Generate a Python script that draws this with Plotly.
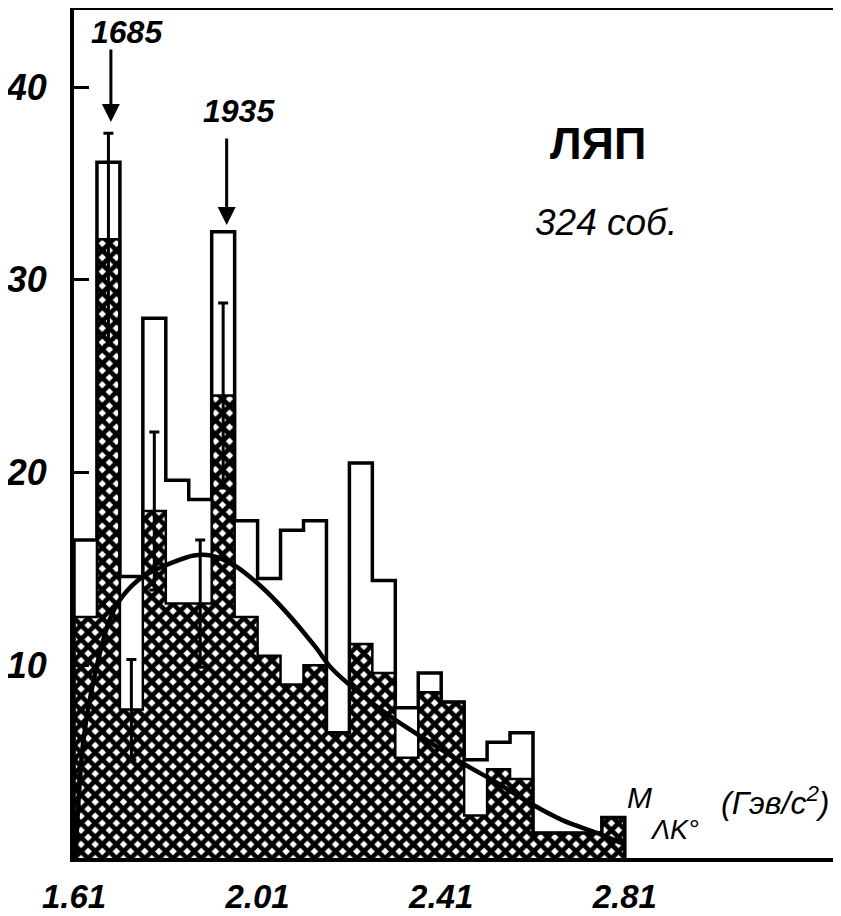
import plotly.graph_objects as go

# ---------------- data ----------------
bin_centers = [1.635, 1.685, 1.735, 1.785, 1.835, 1.885, 1.935, 1.985,
               2.035, 2.085, 2.135, 2.185, 2.235, 2.285, 2.335, 2.385,
               2.435, 2.485, 2.535, 2.585, 2.635, 2.685, 2.735, 2.785]
bin_width = 0.05

# open histogram (all events)
open_counts = [16.5, 36.1, 14.6, 28.0, 19.6, 18.6, 32.5, 17.5,
               14.5, 17.0, 17.5, 6.5, 20.5, 14.4, 7.8, 9.6,
               8.1, 5.1, 6.0, 6.5, 1.3, 1.3, 1.3, 2.1]
# cross-hatched histogram
hatched_counts = [12.5, 32.1, 7.7, 18.0, 13.2, 13.2, 24.0, 12.5,
                  10.5, 9.0, 10.0, 6.5, 11.1, 9.6, 5.2, 8.6,
                  8.1, 2.2, 4.6, 4.1, 1.3, 1.3, 1.3, 2.1]

# error bars on the hatched histogram
err_x = [1.685, 1.735, 1.785, 1.885, 1.935]
err_y = [32.1, 7.7, 18.0, 13.2, 24.0]
err_val = [5.5, 2.6, 4.1, 3.3, 4.8]

# smooth background curve
curve_x = [1.613, 1.63, 1.66, 1.69, 1.7165, 1.76, 1.821, 1.871, 1.908,
           1.958, 2.017, 2.067, 2.136, 2.169, 2.24, 2.314, 2.386, 2.458,
           2.532, 2.603, 2.675, 2.749, 2.81]
curve_y = [0.0, 6.0, 10.0, 12.5, 13.6, 14.6, 15.3, 15.7, 15.7,
           15.2, 14.1, 12.9, 10.95, 9.9, 8.4, 7.1, 6.0, 4.9,
           3.9, 2.85, 1.95, 1.3, 0.7]

x_tick_vals = [1.61, 2.01, 2.41, 2.81]
x_tick_text = ["1.61", "2.01", "2.41", "2.81"]
y_tick_vals = [10, 20, 30, 40]
y_tick_text = ["10", "20", "30", "40"]

peak_labels = ["1685", "1935"]

FONT = "Liberation Sans, Arial, sans-serif"

# step outlines built from the bin arrays
left_edges = [c - bin_width / 2 for c in bin_centers]
right_end = bin_centers[-1] + bin_width / 2
step_x = [left_edges[0]] + left_edges + [right_end, right_end]
open_step_y = [0] + open_counts + [open_counts[-1], 0]
hatch_step_y = [0] + hatched_counts + [hatched_counts[-1], 0]

fig = go.Figure()

# hatched histogram (filled step polygon)
fig.add_trace(go.Scatter(
    x=step_x, y=hatch_step_y, mode="lines",
    line=dict(color="black", width=2.5, shape="hv"),
    fill="tozeroy", fillcolor="white",
    fillpattern=dict(shape="x", fgcolor="black", bgcolor="white",
                     size=10, solidity=0.72, fillmode="replace"),
    showlegend=False, hoverinfo="skip"))

# open histogram outline
fig.add_trace(go.Scatter(
    x=step_x, y=open_step_y, mode="lines",
    line=dict(color="black", width=3.5, shape="hv"),
    showlegend=False, hoverinfo="skip"))

# smooth curve
fig.add_trace(go.Scatter(
    x=curve_x, y=curve_y, mode="lines",
    line=dict(color="black", width=4.5, shape="spline", smoothing=0.8),
    showlegend=False, hoverinfo="skip"))

# error bars
fig.add_trace(go.Scatter(
    x=err_x, y=err_y, mode="markers",
    marker=dict(size=1, color="rgba(0,0,0,0)"),
    error_y=dict(type="data", array=err_val, color="black",
                 thickness=3, width=5),
    showlegend=False, hoverinfo="skip"))

# the page adds an 8 px body margin, so the figure is sized/margined to
# place the plot frame where it sits in the reference
fig.update_layout(
    width=833, height=908,
    margin=dict(l=66, r=3, t=2, b=58),
    paper_bgcolor="white", plot_bgcolor="white",
    showlegend=False,
    xaxis=dict(range=[1.61, 3.2745], tickvals=x_tick_vals, ticktext=x_tick_text,
               ticks="", showgrid=False, zeroline=False, automargin=False,
               showline=True, linecolor="black", linewidth=4, mirror=True,
               tickfont=dict(family=FONT, size=33, color="black",
                             weight="bold", style="italic"),
               ticklabelstandoff=6),
    yaxis=dict(range=[0, 44.0], tickvals=y_tick_vals, ticktext=y_tick_text,
               ticks="inside", ticklen=15, tickwidth=3, tickcolor="black",
               showgrid=False, zeroline=False, automargin=False,
               showline=True, linecolor="black", linewidth=4, mirror=True,
               tickfont=dict(family=FONT, size=36, color="black",
                             weight="bold", style="italic"),
               ticklabelstandoff=16),
)

# arrows marking the peaks
fig.add_annotation(x=1.6904, y=38.19, xref="x", yref="y", text="",
                   showarrow=True, arrowhead=2, arrowsize=1.2, arrowwidth=3,
                   arrowcolor="black", ax=0, ay=-74)
fig.add_annotation(x=1.9426, y=32.85, xref="x", yref="y", text="",
                   showarrow=True, arrowhead=2, arrowsize=1.2, arrowwidth=3,
                   arrowcolor="black", ax=0, ay=-88)
peak_font = dict(family=FONT, size=32, color="black", weight="bold", style="italic")
fig.add_annotation(x=1.7252, y=42.86, xref="x", yref="y", text=peak_labels[0],
                   showarrow=False, font=peak_font)
fig.add_annotation(x=1.9687, y=38.77, xref="x", yref="y", text=peak_labels[1],
                   showarrow=False, font=peak_font)

# experiment labels
fig.add_annotation(x=2.7513, y=37.05, xref="x", yref="y", text="ЛЯП",
                   showarrow=False, font=dict(family=FONT, size=45, color="black",
                                              weight="bold"))
fig.add_annotation(x=2.7687, y=33.0, xref="x", yref="y", text="324 соб.",
                   showarrow=False, font=dict(family=FONT, size=37, color="black",
                                              style="italic"))

# axis title
fig.add_annotation(x=2.8426, y=3.15, xref="x", yref="y", text="M",
                   showarrow=False, font=dict(family=FONT, size=30, color="black",
                                              style="italic"))
fig.add_annotation(x=2.9187, y=1.45, xref="x", yref="y", text="ΛK°",
                   showarrow=False, font=dict(family=FONT, size=27, color="black",
                                              style="italic"))
fig.add_annotation(x=3.1383, y=2.96, xref="x", yref="y", text="(Гэв/c<sup>2</sup>)",
                   showarrow=False, font=dict(family=FONT, size=32, color="black",
                                              style="italic"))

fig.write_html("out.html")
